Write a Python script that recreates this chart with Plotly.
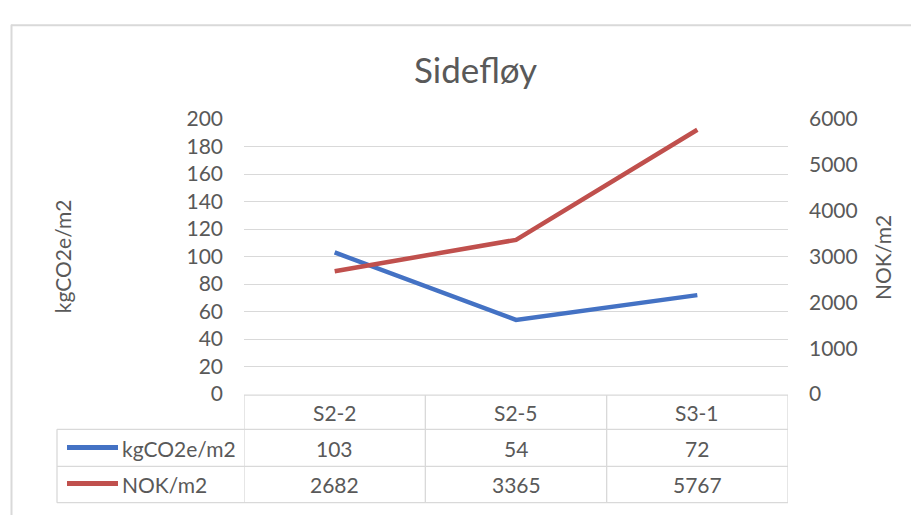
import plotly.graph_objects as go

categories = ["S2-2", "S2-5", "S3-1"]
co2_name = "kgCO2e/m2"
co2_values = [103, 54, 72]
nok_name = "NOK/m2"
nok_values = [2682, 3365, 5767]
left_ticks = list(range(0, 201, 20))
right_ticks = list(range(0, 6001, 1000))
title_text = "Sidefløy"

W, H = 919, 518
OFF = 8  # page body margin offsets the figure by 8px
FONT = "Lato"
TXT = "#595959"
GRID = "#D9D9D9"
BLUE = "#4472C4"
RED = "#C0504D"
FS = 21

def px(x):
    return (x - OFF) / W

def py(y):
    return 1 - (y - OFF) / H

x0, x1 = 244, 788
ytop, ybot = 110, 399

fig = go.Figure()
fig.add_trace(go.Scatter(x=categories, y=co2_values, name=co2_name, mode="lines",
                         line=dict(color=BLUE, width=4.5), yaxis="y"))
fig.add_trace(go.Scatter(x=categories, y=nok_values, name=nok_name, mode="lines",
                         line=dict(color=RED, width=4.5), yaxis="y2"))

fig.update_layout(
    width=W, height=H,
    margin=dict(l=0, r=0, t=0, b=0),
    paper_bgcolor="white", plot_bgcolor="white",
    showlegend=False,
    font=dict(family=FONT, color=TXT, size=FS),
    xaxis=dict(domain=[px(x0), px(x1)], type="category", range=[-0.5, 2.5],
               visible=False),
    yaxis=dict(domain=[py(ybot), py(ytop)], range=[0, 200], tickvals=left_ticks,
               showgrid=True, gridcolor=GRID, gridwidth=1, zeroline=False,
               showline=False, ticks="", ticklabelstandoff=20,
               tickfont=dict(size=FS, color=TXT)),
    yaxis2=dict(domain=[py(ybot), py(ytop)], range=[0, 6000], tickvals=right_ticks,
                overlaying="y", side="right", showgrid=False, zeroline=False,
                showline=False, ticks="", ticklabelstandoff=20,
                tickfont=dict(size=FS, color=TXT)),
)

shapes = []
line_style = dict(color=GRID, width=1.3)
# outer chart border (top and left visible)
shapes.append(dict(type="line", xref="paper", yref="paper", x0=px(11), x1=1,
                   y0=py(11.5), y1=py(11.5), line=dict(color=GRID, width=2)))
shapes.append(dict(type="line", xref="paper", yref="paper", x0=px(11.5), x1=px(11.5),
                   y0=py(11), y1=0, line=dict(color=GRID, width=2)))
# table horizontal lines
shapes.append(dict(type="line", xref="paper", yref="paper", x0=px(x0), x1=px(x1),
                   y0=py(400), y1=py(400), line=line_style))
for yy in (436, 475, 513):
    shapes.append(dict(type="line", xref="paper", yref="paper", x0=px(57), x1=px(x1),
                       y0=py(yy), y1=py(yy), line=line_style))
# table vertical lines at category boundaries (data coordinates)
for b in [i - 0.5 for i in range(len(categories) + 1)]:
    shapes.append(dict(type="line", xref="x", yref="paper", x0=b, x1=b,
                       y0=py(400), y1=py(513), line=line_style))
shapes.append(dict(type="line", xref="paper", yref="paper", x0=px(57), x1=px(57),
                   y0=py(436), y1=py(513), line=line_style))
# legend keys
for yy, col in ((455, BLUE), (493, RED)):
    shapes.append(dict(type="line", xref="paper", yref="paper", x0=px(67), x1=px(118),
                       y0=py(yy), y1=py(yy), line=dict(color=col, width=5)))
fig.update_layout(shapes=shapes)

def note(x, xref, y, text, xanchor="center", angle=0, size=FS):
    return dict(x=x, xref=xref, y=y, yref="paper", text=text, showarrow=False,
                xanchor=xanchor, yanchor="middle", textangle=angle,
                font=dict(size=size, color=TXT, family=FONT))

ann = [note(px(475), "paper", py(57), title_text, size=35)]
for i, c in enumerate(categories):
    ann.append(note(c, "x", py(418), c))
    ann.append(note(c, "x", py(456), str(co2_values[i])))
    ann.append(note(c, "x", py(494), str(nok_values[i])))
for yy, name in ((456, co2_name), (494, nok_name)):
    ann.append(note(px(120), "paper", py(yy), name, xanchor="left"))
ann.append(note(px(62), "paper", py(254), co2_name, angle=-90))
ann.append(note(px(882), "paper", py(256), nok_name, angle=-90))
fig.update_layout(annotations=ann)

fig.write_html("out.html")
